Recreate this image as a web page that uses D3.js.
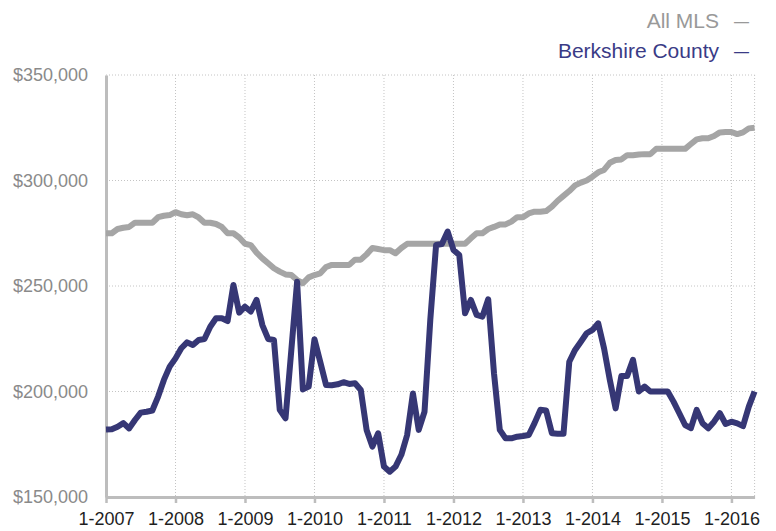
<!DOCTYPE html>
<html>
<head>
<meta charset="utf-8">
<script src="https://cdn.jsdelivr.net/npm/d3@7"></script>
<style>
  html, body { margin: 0; padding: 0; background: #fff; }
  svg { display: block; font-family: "Liberation Sans", Arial, Helvetica, sans-serif; }
</style>
</head>
<body>
<svg id="chart" width="776" height="531"></svg>
<script>
// ---- data (monthly, 1-2007 .. 5-2016) ----
const startMonth = new Date(2007, 0, 1);
const endMonth = new Date(2016, 4, 1);
const months = d3.timeMonth.range(startMonth, d3.timeMonth.offset(endMonth, 1));

const allMLS = [
  275000, 275000, 277000, 277600, 278000, 280000, 280000, 280000, 280000, 282600, 283300, 283600,
  285000, 284000, 283500, 284000, 282500, 280000, 280000, 279400, 278000, 275000, 275000, 273000,
  270000, 269400, 265800, 263100, 260800, 258400, 256800, 255500, 255200, 252800, 251300, 254100,
  255200, 256000, 259000, 260000, 260000, 260000, 260000, 262500, 262500, 265000, 268000, 267500,
  267000, 267000, 265500, 268000, 270000, 270000, 270000, 270000, 270000, 270000, 270000, 270000,
  270000, 270000, 270000, 272600, 275000, 275000, 277000, 278000, 279200, 279200, 280500, 282600,
  282600, 284400, 285200, 285200, 285500, 287600, 290400, 292700, 295000, 297700, 299000, 300000,
  301800, 303900, 305000, 308400, 309700, 310000, 312000, 312000, 312300, 312500, 312500, 315000,
  315000, 315000, 315000, 315000, 315000, 317300, 319500, 320000, 320000, 321100, 322800, 323000,
  323000, 322000, 322800, 324700, 325000
];

const berkshire = [
  182000, 182100, 183300, 185000, 182500, 186500, 190000, 190400, 191000, 197600, 205500, 211800,
  215700, 220500, 223300, 222000, 224400, 224900, 230700, 234700, 234700, 233400, 250500, 237400,
  240200, 237900, 243400, 231500, 224900, 224400, 191300, 187300, 219500, 252000, 201000, 202300,
  224800, 214000, 203100, 203000, 203400, 204400, 203600, 203900, 200700, 181800, 173900, 180200,
  164400, 162000, 164400, 170000, 179400, 199100, 181800, 190400, 234000, 269400, 269900, 275800,
  267100, 264700, 237100, 243400, 236300, 235500, 243700, 208600, 181800, 177800, 177800, 178600,
  178900, 179400, 185000, 191300, 191000, 180200, 180000, 180000, 214100, 219700, 223600, 227600,
  229200, 232300, 220500, 205500, 192000, 207400, 207400, 215000, 200000, 202300, 200000, 200000,
  200000, 200000, 195200, 189700, 184100, 182600, 191300, 185000, 182600, 185700, 189700, 184600,
  185700, 184900, 183600, 192800, 200000
];

const yTicks = [150000, 200000, 250000, 300000, 350000];
const xTickYears = [2007, 2008, 2009, 2010, 2011, 2012, 2013, 2014, 2015, 2016];

const seriesNames = ["All MLS", "Berkshire County"];
const seriesColors = ["#a5a5a5", "#363775"];
const legendTextColors = ["#999999", "#3a3b86"];

// ---- layout ----
const svg = d3.select("#chart");
const mLeft = 106, mRight = 754.6, mTop = 75, mBottom = 497;

const x = d3.scaleLinear().domain([0, months.length - 1]).range([mLeft, mRight]);
const y = d3.scaleLinear().domain([150000, 350000]).range([mBottom, mTop]);

const monthIndex = d => (d.getFullYear() - 2007) * 12 + d.getMonth();
const xTickIdx = xTickYears.map(yr => monthIndex(new Date(yr, 0, 1)));

// gridlines (dotted)
const grid = svg.append("g");
grid.selectAll("line.h").data(yTicks.filter(t => t > 150000)).join("line")
  .attr("class", "h")
  .attr("x1", mLeft).attr("x2", mRight)
  .attr("y1", d => y(d)).attr("y2", d => y(d))
  .attr("stroke", "#c4c4c4").attr("stroke-width", 1).attr("stroke-dasharray", "1,2");
grid.selectAll("line.v").data(xTickIdx.filter(i => i > 0).concat([months.length - 1])).join("line")
  .attr("class", "v")
  .attr("x1", d => x(d)).attr("x2", d => x(d))
  .attr("y1", mTop).attr("y2", mBottom)
  .attr("stroke", "#c4c4c4").attr("stroke-width", 1).attr("stroke-dasharray", "1,2");

// y axis
const yAxis = d3.axisLeft(y).tickValues(yTicks).tickSize(0).tickPadding(18)
  .tickFormat(d => "$" + d3.format(",")(d));
const gy = svg.append("g").attr("transform", `translate(${mLeft},0)`).call(yAxis);
gy.select(".domain").attr("stroke", "#bdbdbd").attr("stroke-width", 3);
gy.selectAll("text").attr("font-size", 18).attr("fill", "#8a8a8a")
  .attr("font-family", "\"Liberation Sans\", Arial, sans-serif");

// x axis
const xAxis = d3.axisBottom(x).tickValues(xTickIdx).tickSize(6).tickSizeOuter(0).tickPadding(9)
  .tickFormat(i => "1-" + months[i].getFullYear());
const gx = svg.append("g").attr("transform", `translate(0,${mBottom})`).call(xAxis);
gx.select(".domain").attr("stroke", "#bdbdbd").attr("stroke-width", 3);
gx.selectAll(".tick line").attr("stroke", "#bdbdbd").attr("stroke-width", 2.5);
gx.selectAll("text").attr("font-size", 18).attr("fill", "#1e1e1e")
  .attr("font-family", "\"Liberation Sans\", Arial, sans-serif");

// lines
const line = d3.line().x((d, i) => x(i)).y(d => y(d)).curve(d3.curveLinear);
[allMLS, berkshire].forEach((s, k) => {
  svg.append("path").datum(s)
    .attr("fill", "none")
    .attr("stroke", seriesColors[k])
    .attr("stroke-width", 6)
    .attr("stroke-linejoin", "round")
    .attr("stroke-linecap", "butt")
    .attr("d", line);
});

// legend
const legend = svg.append("g");
const legendY = [28, 58];
seriesNames.forEach((name, k) => {
  legend.append("text")
    .attr("x", 719).attr("y", legendY[k])
    .attr("text-anchor", "end")
    .attr("font-size", 21)
    .attr("fill", legendTextColors[k])
    .text(name);
  legend.append("text")
    .attr("x", 734).attr("y", legendY[k])
    .attr("font-size", 21)
    .attr("fill", legendTextColors[k])
    .attr("textLength", 15)
    .attr("lengthAdjust", "spacingAndGlyphs")
    .text("—");
});
</script>
</body>
</html>
